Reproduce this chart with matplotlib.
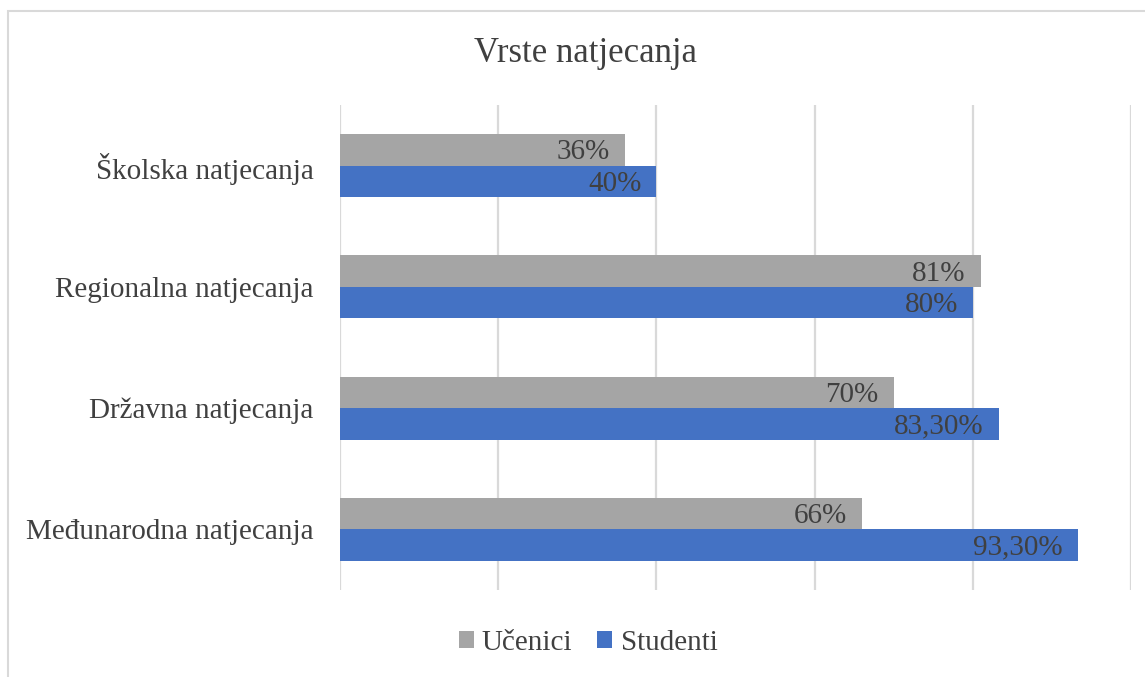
import numpy as np
import matplotlib
matplotlib.use("Agg")
import matplotlib.pyplot as plt
from matplotlib.patches import Rectangle

categories = ["Školska natjecanja", "Regionalna natjecanja",
              "Državna natjecanja", "Međunarodna natjecanja"]
ucenici = [0.36, 0.81, 0.70, 0.66]
studenti = [0.40, 0.80, 0.833, 0.933]
ucenici_labels = ["36%", "81%", "70%", "66%"]
studenti_labels = ["40%", "80%", "83,30%", "93,30%"]

plt.rcParams["font.family"] = ["Liberation Serif", "DejaVu Serif"]

fig = plt.figure(figsize=(11.45, 6.77), dpi=100)
ax = fig.add_axes([340 / 1145, 1 - 590 / 677, (1131 - 340) / 1145, (590 - 105) / 677])

GRAY, BLUE, TXT = "#A5A5A5", "#4472C4", "#404040"
h = 0.26
y = np.arange(len(categories))
ax.barh(y - h / 2, ucenici, height=h, color=GRAY, label="Učenici")
ax.barh(y + h / 2, studenti, height=h, color=BLUE, label="Studenti")

pad = 0.019
for yi, v, lab in zip(y, ucenici, ucenici_labels):
    ax.text(v - pad, yi - h / 2 + 0.02, lab, ha="right", va="center", fontsize=21, color=TXT)
for yi, v, lab in zip(y, studenti, studenti_labels):
    ax.text(v - pad, yi + h / 2 + 0.02, lab, ha="right", va="center", fontsize=21, color=TXT)

ax.set_xlim(0, 1)
ax.set_ylim(len(categories) - 0.5, -0.5)
ax.set_xticks(np.arange(0, 1.01, 0.2))
ax.set_xticklabels([])
ax.tick_params(axis="x", length=0)
ax.tick_params(axis="y", length=0, pad=19, labelsize=21, labelcolor=TXT)
ax.set_yticks(y)
ax.set_yticklabels(categories)
ax.grid(axis="x", color="#D9D9D9", lw=1.6)
ax.set_axisbelow(True)
for s in ax.spines.values():
    s.set_visible(False)

fig.text(585 / 1145, 1 - 54 / 677, "Vrste natjecanja", ha="center", va="center",
         fontsize=25, color=TXT)

leg = fig.legend(loc="center", bbox_to_anchor=(588 / 1145, 1 - 643 / 677), ncol=2,
                 frameon=False, fontsize=21, labelcolor=TXT, handlelength=0.52,
                 handleheight=0.52, handletextpad=0.28, columnspacing=0.85)

fig.patches.append(Rectangle((8 / 1145, -0.1), 1.2, 1 - 11 / 677 + 0.1,
                             transform=fig.transFigure, fill=False,
                             edgecolor="#D9D9D9", lw=1.5))

fig.savefig("out.png", dpi=100)
